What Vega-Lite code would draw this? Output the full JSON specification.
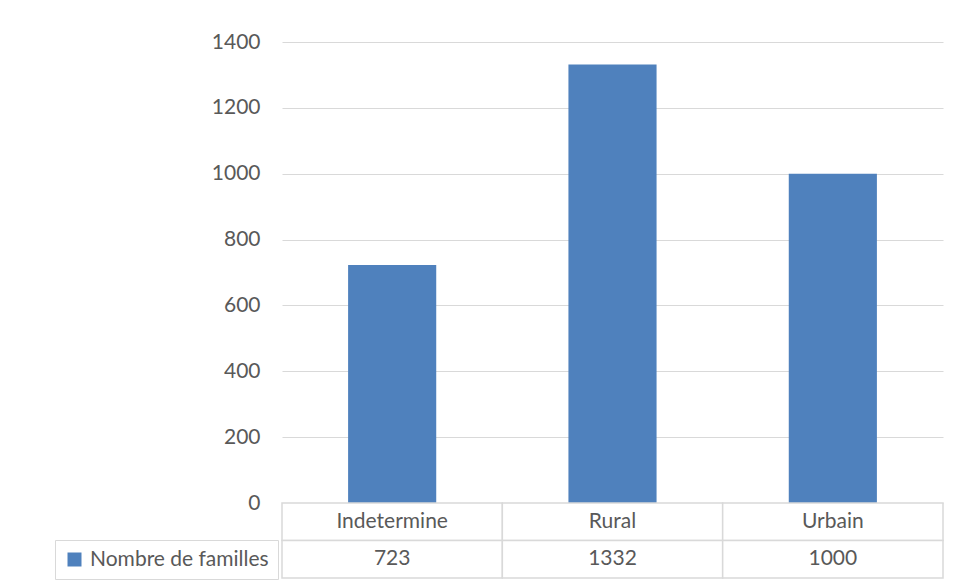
{
  "$schema": "https://vega.github.io/schema/vega-lite/v6.json",
  "background": "white",
  "padding": {"left": 54, "top": 31, "right": 10, "bottom": 5},
  "bounds": "flush",
  "config": {
    "font": "Lato",
    "view": {"stroke": null},
    "axis": {"labelFont": "Lato", "labelFontSize": 21, "labelColor": "#595959"}
  },
  "data": {
    "values": [
      {"categorie": "Indetermine", "nombre": 723, "serie": "Nombre de familles"},
      {"categorie": "Rural", "nombre": 1332, "serie": "Nombre de familles"},
      {"categorie": "Urbain", "nombre": 1000, "serie": "Nombre de familles"}
    ]
  },
  "spacing": 0,
  "vconcat": [
    {
      "width": 661,
      "height": 461,
      "mark": {"type": "bar"},
      "encoding": {
        "x": {
          "field": "categorie", "type": "nominal", "sort": null,
          "scale": {"paddingInner": 0.6, "paddingOuter": 0.3},
          "axis": null
        },
        "y": {
          "field": "nombre", "type": "quantitative",
          "scale": {"domain": [0, 1400], "nice": false},
          "axis": {
            "values": [0, 200, 400, 600, 800, 1000, 1200, 1400],
            "format": "d",
            "title": null, "domain": false, "ticks": false,
            "labelPadding": 22, "gridColor": "#d9d9d9", "gridWidth": 1
          }
        },
        "color": {
          "field": "serie", "type": "nominal",
          "scale": {"range": ["#4f81bd"]},
          "legend": {
            "orient": "none", "legendX": -227, "legendY": 498,
            "title": null, "strokeColor": "#d9d9d9", "padding": 9,
            "symbolType": "square", "symbolSize": 196, "symbolStrokeWidth": 0,
            "symbolOpacity": 1, "labelOffset": 5, "labelLimit": 400,
            "labelFont": "Lato", "labelFontSize": 21, "labelColor": "#595959"
          }
        }
      }
    },
    {
      "width": 661,
      "height": 75,
      "layer": [
        {
          "mark": {"type": "rect", "fill": "white", "stroke": "#d9d9d9", "strokeWidth": 1.5},
          "encoding": {
            "x": {"field": "categorie", "type": "nominal", "sort": null, "scale": {"padding": 0}, "axis": null},
            "y": {"datum": "cat", "type": "nominal", "scale": {"domain": ["cat", "val"], "padding": 0}, "axis": null}
          }
        },
        {
          "mark": {"type": "rect", "fill": "white", "stroke": "#d9d9d9", "strokeWidth": 1.5},
          "encoding": {
            "x": {"field": "categorie", "type": "nominal", "sort": null},
            "y": {"datum": "val", "type": "nominal"}
          }
        },
        {
          "mark": {"type": "text", "fontSize": 21, "color": "#595959", "font": "Lato"},
          "encoding": {
            "x": {"field": "categorie", "type": "nominal", "sort": null},
            "y": {"datum": "cat", "type": "nominal"},
            "text": {"field": "categorie"}
          }
        },
        {
          "mark": {"type": "text", "fontSize": 21, "color": "#595959", "font": "Lato"},
          "encoding": {
            "x": {"field": "categorie", "type": "nominal", "sort": null},
            "y": {"datum": "val", "type": "nominal"},
            "text": {"field": "nombre", "type": "quantitative"}
          }
        }
      ]
    }
  ]
}
